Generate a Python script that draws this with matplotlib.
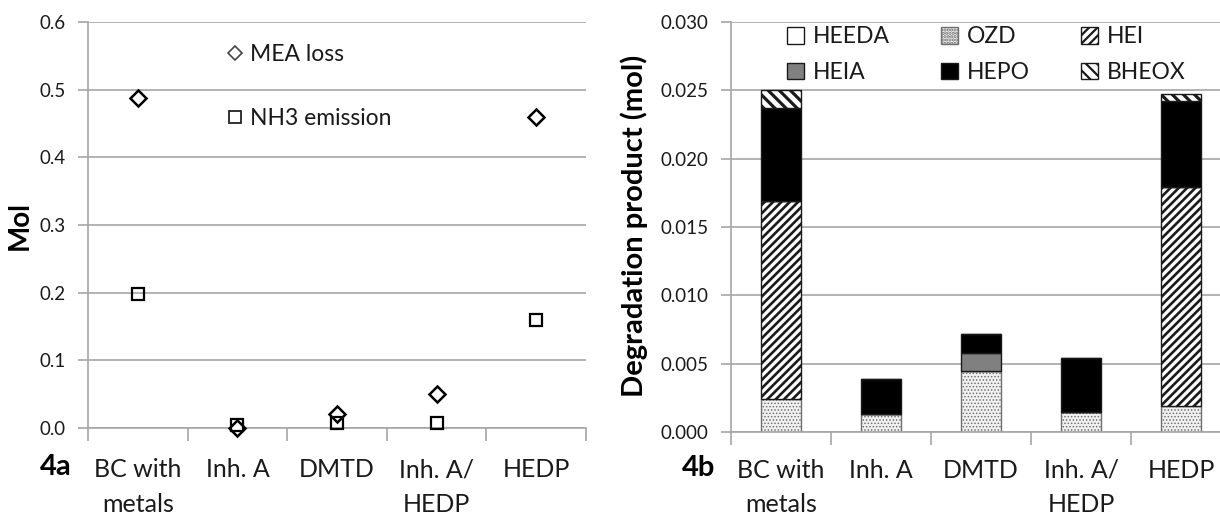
import matplotlib
matplotlib.use("Agg")
import matplotlib.pyplot as plt
from matplotlib.patches import Patch
from matplotlib.lines import Line2D
import numpy as np

plt.rcParams['font.family'] = ['Lato', 'DejaVu Sans']
plt.rcParams['hatch.linewidth'] = 1.6

categories = ["BC with\nmetals", "Inh. A", "DMTD", "Inh. A/\nHEDP", "HEDP"]

# Figure 4a
mea_loss = [0.488, 0.0, 0.020, 0.050, 0.460]
nh3_emission = [0.198, 0.005, 0.007, 0.008, 0.160]
yticks_a = [0.0, 0.1, 0.2, 0.3, 0.4, 0.5, 0.6]

# Figure 4b (stacked, mol)
series_names = ["HEEDA", "OZD", "HEI", "HEIA", "HEPO", "BHEOX"]
heeda = [0.0, 0.0, 0.0, 0.0, 0.0]
ozd = [0.0024, 0.0013, 0.0045, 0.0015, 0.0019]
hei = [0.0145, 0.0, 0.0, 0.0, 0.0160]
heia = [0.0, 0.0, 0.0013, 0.0, 0.0]
hepo = [0.0068, 0.0026, 0.0014, 0.0039, 0.0063]
bheox = [0.0013, 0.0, 0.0, 0.0, 0.0005]
yticks_b = [0.000, 0.005, 0.010, 0.015, 0.020, 0.025, 0.030]

W, H = 1220, 516
fig = plt.figure(figsize=(W / 100, H / 100), dpi=100)

grid_c = '#a6a6a6'
text_c = '#1a1a1a'
cat_fs = 18
leg_fs = 16.5
tick_fs = 13.5

def px_axes(x0, x1, ytop, ybot):
    return fig.add_axes([x0 / W, (H - ybot) / H, (x1 - x0) / W, (ybot - ytop) / H])

def style_axes(ax, yticks, fmt):
    n = len(categories)
    x = np.arange(n)
    ax.set_xlim(-0.5, n - 0.5)
    ax.set_ylim(yticks[0], yticks[-1])
    ax.set_yticks(yticks)
    ax.set_yticklabels([fmt.format(v) for v in yticks], fontsize=tick_fs, color=text_c)
    ax.set_xticks(np.arange(n + 1) - 0.5)
    ax.set_xticklabels([])
    ax.tick_params(axis='x', length=9, width=1.2, color=grid_c, direction='out')
    ax.tick_params(axis='y', length=7, width=1.2, color=grid_c, direction='out', pad=9)
    ax.grid(axis='y', color=grid_c, linewidth=1.2)
    ax.set_axisbelow(True)
    for s in ['top', 'right']:
        ax.spines[s].set_visible(False)
    for s in ['left', 'bottom']:
        ax.spines[s].set_color(grid_c)
        ax.spines[s].set_linewidth(1.2)
    return x

# ---------------- 4a ----------------
axa = px_axes(88, 586, 22, 428)
xa = style_axes(axa, yticks_a, "{:.1f}")
axa.plot(xa, mea_loss, linestyle='none', marker='D', markersize=8,
         markerfacecolor='white', markeredgecolor='black', markeredgewidth=1.8,
         zorder=3, clip_on=False)
axa.plot(xa, nh3_emission, linestyle='none', marker='s', markersize=9,
         markerfacecolor='none', markeredgecolor='black', markeredgewidth=1.6,
         zorder=4, clip_on=False)
for xi, lab in zip(xa, categories):
    axa.text(xi, -0.075, lab, transform=axa.get_xaxis_transform(), ha='center', va='top',
             fontsize=cat_fs, color=text_c, linespacing=1.6)
axa.text(-0.064, -0.097, "4a", transform=axa.transAxes, ha='center', va='center',
         fontsize=21, fontweight='bold', color='black')
fig.text(20 / W, (H - 225) / H, "Mol", rotation=90, ha='center', va='center',
         fontsize=20, fontweight='bold', color='black')
leg_handles = [Line2D([], [], linestyle='none', marker='D', markersize=7, markerfacecolor='white',
                      markeredgecolor='#444444', markeredgewidth=1.2),
               Line2D([], [], linestyle='none', marker='s', markersize=9, markerfacecolor='white',
                      markeredgecolor='#222222', markeredgewidth=1.3)]
axa.legend(leg_handles, ["MEA loss", "NH3 emission"], loc='upper left',
           bbox_to_anchor=(0.277, 0.945), frameon=False, fontsize=leg_fs,
           handlelength=0.8, handletextpad=0.25, labelspacing=1.85, borderpad=0,
           borderaxespad=0, labelcolor=text_c)

# ---------------- 4b ----------------
axb = px_axes(731, 1231, 22, 432)
xb = style_axes(axb, yticks_b, "{:.3f}")
styles = {
    "HEEDA": dict(facecolor='white', hatch=None, ec='#1a1a1a', hlw=1.6),
    "OZD": dict(facecolor='#f2f2f2', hatch='.....', ec='#707070', hlw=0.7),
    "HEI": dict(facecolor='white', hatch='////', ec='#1a1a1a', hlw=1.9),
    "HEIA": dict(facecolor='#808080', hatch=None, ec='#1a1a1a', hlw=1.6),
    "HEPO": dict(facecolor='black', hatch=None, ec='#1a1a1a', hlw=1.6),
    "BHEOX": dict(facecolor='white', hatch='\\\\\\', ec='#1a1a1a', hlw=2.3),
}
data_b = [heeda, ozd, hei, heia, hepo, bheox]
bottom = np.zeros(len(categories))
handles = {}
for name, vals in zip(series_names, data_b):
    st = styles[name]
    with plt.rc_context({'hatch.linewidth': st['hlw']}):
        axb.bar(xb, vals, width=0.4, bottom=bottom, facecolor=st['facecolor'],
                hatch=st['hatch'], edgecolor=st['ec'], linewidth=1.0, zorder=2)
        handles[name] = Patch(facecolor=st['facecolor'], hatch=st['hatch'],
                              edgecolor=st['ec'], linewidth=1.0)
    bottom = bottom + np.array(vals)

for xi, lab in zip(xb, categories):
    axb.text(xi, -0.065, lab, transform=axb.get_xaxis_transform(), ha='center', va='top',
             fontsize=cat_fs, color=text_c, linespacing=1.6)
axb.text(-0.064, -0.087, "4b", transform=axb.transAxes, ha='center', va='center',
         fontsize=21, fontweight='bold', color='black')
fig.text(634 / W, (H - 226) / H, "Degradation product (mol)", rotation=90, ha='center',
         va='center', fontsize=21, fontweight='bold', color='black')

order = ["HEEDA", "HEIA", "OZD", "HEPO", "HEI", "BHEOX"]
axb.legend([handles[n] for n in order], order, ncol=3, loc='upper left',
           bbox_to_anchor=(0.112, 0.99), frameon=False, fontsize=leg_fs,
           handlelength=0.75, handleheight=0.75, handletextpad=0.4, labelspacing=0.65,
           columnspacing=2.2, borderpad=0, borderaxespad=0, labelcolor=text_c)

fig.savefig("out.png", dpi=100)
